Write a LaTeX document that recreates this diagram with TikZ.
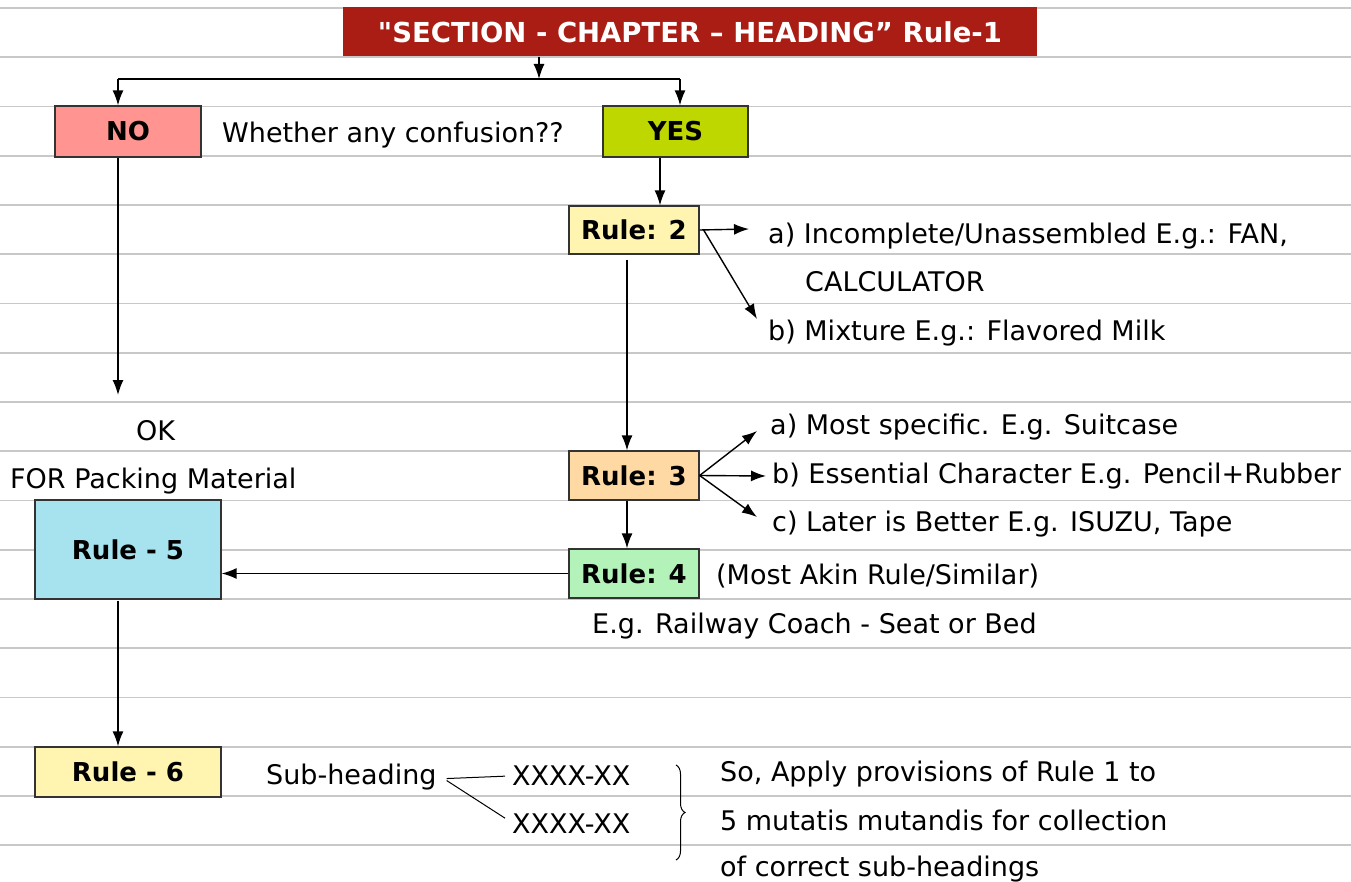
\documentclass[tikz,border=0pt]{standalone}
\usepackage{fontspec}
\setmainfont{DejaVu Sans}
\usetikzlibrary{positioning, arrows.meta, decorations.pathreplacing}

\definecolor{titlered}{HTML}{AA1D14}
\definecolor{nopink}{HTML}{FF9490}
\definecolor{yesgreen}{HTML}{BFD700}
\definecolor{paleyellow}{HTML}{FFF5B0}
\definecolor{peach}{HTML}{FFD9A3}
\definecolor{palegreen}{HTML}{B3F2B8}
\definecolor{palecyan}{HTML}{A6E3EE}
\definecolor{ruling}{HTML}{C8C8C8}

\begin{document}
\begin{tikzpicture}[x=1pt, y=-1pt,
  box/.style={draw=black!80, line width=1.3pt, inner sep=0pt,
    font=\bfseries\fontsize{26}{30}\selectfont},
  txt/.style={anchor=base west, inner sep=0pt, font=\fontsize{27}{30}\selectfont},
  arr/.style={-{Latex[length=15pt,width=11pt]}, line width=1.4pt}]
\useasboundingbox (0,0) rectangle (1351,882);
\fill[white] (0,0) rectangle (1351,882);
% ruled paper
\foreach \k in {0,...,17}
  \draw[ruling, line width=1.6pt] (0,{8+49.25*\k}) -- (1351,{8+49.25*\k});

% boxes
\node[fill=titlered, text=white, inner sep=0pt, minimum width=694pt, minimum height=49pt,
  font=\bfseries\fontsize{27.5}{30}\selectfont] (title) at (690,32) {\textquotedbl SECTION - CHAPTER – HEADING” Rule-1};
\node[box, fill=nopink, minimum width=146pt, minimum height=51pt] (no) at (128,131.5) {NO};
\node[box, fill=yesgreen, minimum width=145pt, minimum height=51pt] (yes) at (675.5,131.5) {YES};
\node[box, fill=paleyellow, minimum width=130pt, minimum height=48pt] (rule2) at (634,230) {Rule: 2};
\node[box, fill=peach, minimum width=130pt, minimum height=49pt] (rule3) at (634,475.5) {Rule: 3};
\node[box, fill=palegreen, minimum width=130pt, minimum height=49pt] (rule4) at (634,573.5) {Rule: 4};
\node[box, fill=palecyan, minimum width=186pt, minimum height=99pt] (rule5) at (128,549.5) {Rule - 5};
\node[box, fill=paleyellow, minimum width=186pt, minimum height=50pt] (rule6) at (128,772) {Rule - 6};

% texts
\node[txt] (ask) at (222,143) {Whether any confusion??};
\node[txt] (r2a) at (768,244) {a) Incomplete/Unassembled E.g.: FAN,};
\node[txt] (r2a2) at (805,292) {CALCULATOR};
\node[txt] (r2b) at (768,341) {b) Mixture E.g.: Flavored Milk};
\node[txt] (ok) at (136,440) {OK};
\node[txt] (pack) at (10,488) {FOR Packing Material};
\node[txt] (r3a) at (770,434) {a) Most specific. E.g. Suitcase};
\node[txt] (r3b) at (772,483) {b) Essential Character E.g. Pencil+Rubber};
\node[txt] (r3c) at (772,531) {c) Later is Better E.g. ISUZU, Tape};
\node[txt] (akin) at (716,584) {(Most Akin Rule/Similar)};
\node[txt] (coach) at (592,633) {E.g. Railway Coach - Seat or Bed};
\node[txt] (sub) at (266,784) {Sub-heading};
\node[txt] (x1) at (512,785) {XXXX-XX};
\node[txt] (x2) at (512,833) {XXXX-XX};
\node[txt] (so1) at (720,781) {So, Apply provisions of Rule 1 to};
\node[txt] (so2) at (720,830) {5 mutatis mutandis for collection};
\node[txt] (so3) at (720,876) {of correct sub-headings};

% arrow ends
\coordinate (split) at (539,79);
\coordinate (forkL) at (118,79);
\coordinate (forkR) at (680,79);
\coordinate (okend) at (118,395);
\coordinate (tip2a) at (749,229);
\coordinate (tip2b) at (757,319);
\coordinate (tip3a) at (757,431);
\coordinate (tip3b) at (766,476);
\coordinate (tip3c) at (757,517);

% connectors
\draw[arr] (title.south -| split) -- (split);
\draw[line width=1.4pt] (forkL) -- (forkR);
\draw[arr] (forkL) -- (forkL |- no.north);
\draw[arr] (forkR) -- (forkR |- yes.north);
\draw[arr] ([xshift=-15.5pt]yes.south) -- ([xshift=26pt]rule2.north);
\draw[arr] (rule2.east) -- (tip2a);
\draw[arr] ([xshift=4pt]rule2.east) -- (tip2b);
\draw[arr] ([xshift=-7pt,yshift=-5pt]rule2.south) -- ([xshift=-7pt]rule3.north);
\draw[arr] (rule3.east) -- (tip3a);
\draw[arr] (rule3.east) -- (tip3b);
\draw[arr] (rule3.east) -- (tip3c);
\draw[arr] ([xshift=-7pt]rule3.south) -- ([xshift=-7pt]rule4.north);
\draw[arr] (rule4.west) -- (rule4.west -| rule5.east);
\draw[arr] ([xshift=-10pt]no.south) -- (okend);
\draw[arr] ([xshift=-10pt,yshift=-1pt]rule5.south) -- ([xshift=-10pt]rule6.north);
\draw[line width=1pt] ([xshift=10pt,yshift=-2pt]sub.east) -- ([xshift=-7pt,yshift=-1pt]x1.west);
\draw[line width=1pt] ([xshift=10pt,yshift=-4pt]sub.east) -- ([xshift=-7pt,yshift=5pt]x2.west);
\draw[decorate, decoration={brace, amplitude=9pt}, line width=1pt] (676,765) -- (676,860);
\end{tikzpicture}
\end{document}
